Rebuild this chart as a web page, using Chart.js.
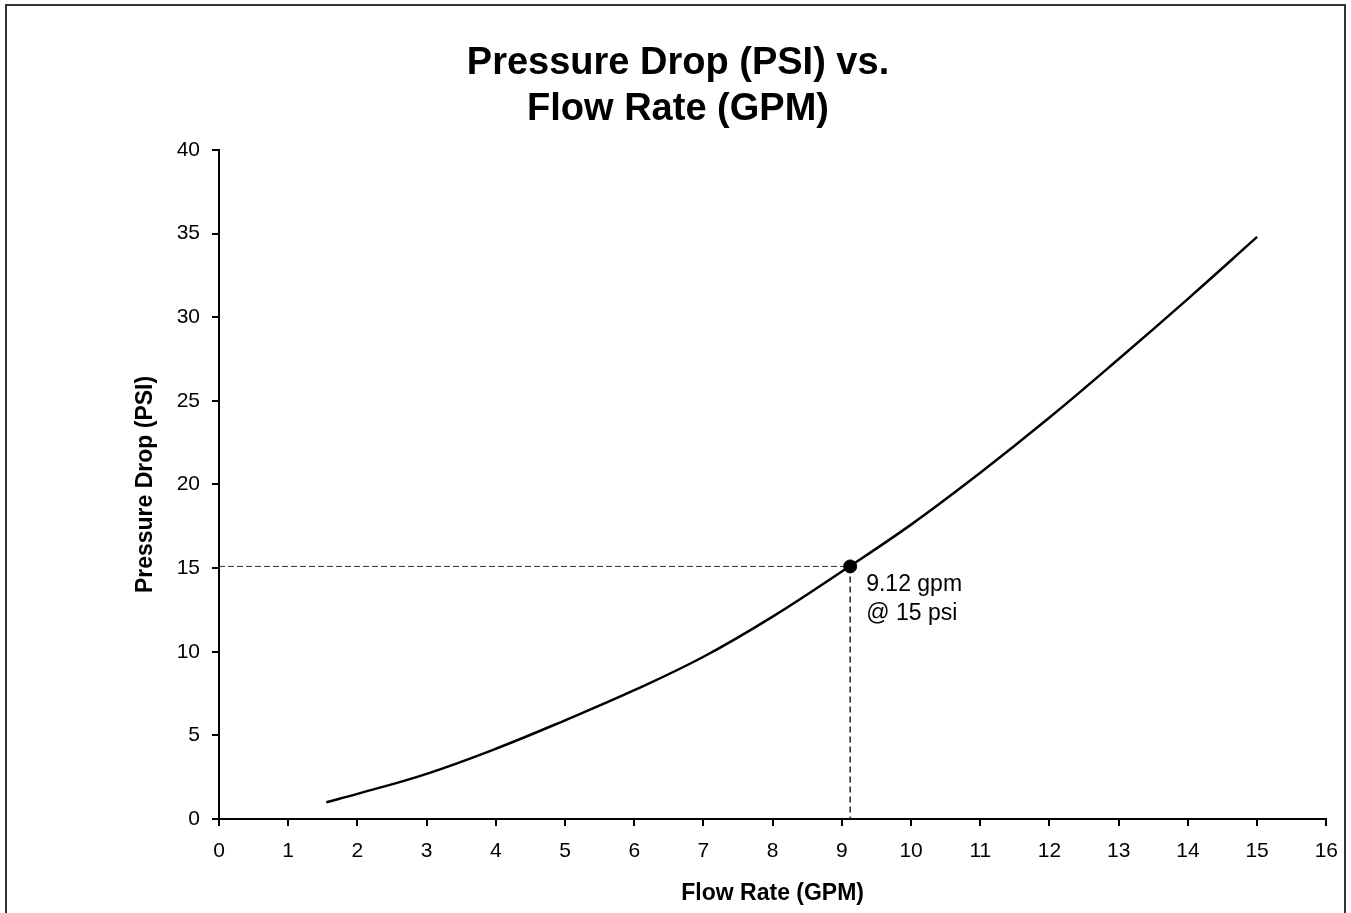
<!DOCTYPE html>
<html>
<head>
<meta charset="utf-8">
<title>Pressure Drop vs. Flow Rate</title>
<script src="https://cdn.jsdelivr.net/npm/chart.js@4.4.1/dist/chart.umd.min.js"></script>
<style>
    body { margin: 0; background: #fff; overflow: hidden; }
    #wrap { position: relative; width: 1351px; height: 913px; }
    #frame {
        position: absolute; left: 5px; top: 4px; width: 1337px; height: 1000px;
        border: 2px solid #333; pointer-events: none;
    }
</style>
</head>
<body>
<div id="wrap">
    <canvas id="pressureChart" width="1351" height="913"></canvas>
    <div id="frame"></div>
</div>
<script>
// Curve (GPM -> PSI)
const flowRate = [1.55, 2, 3, 4, 5, 6, 7, 8, 9, 10, 11, 12, 13, 14, 15];
const pressureDrop = [1.0, 1.5, 2.7, 4.2, 5.9, 7.7, 9.7, 12.1, 14.8, 17.6, 20.7, 24.0, 27.5, 31.1, 34.8];

// Operating point
const opFlow = [9.12];
const opPressure = [15.1];
const opLabel = ['9.12 gpm', '@ 15 psi'];

// Axis ranges / ticks
const xTicks = [0, 16, 1];
const yTicks = [0, 40, 5];

const chartTitle = ['Pressure Drop (PSI) vs.', 'Flow Rate (GPM)'];
const xTitle = 'Flow Rate (GPM)';
const yTitle = 'Pressure Drop (PSI)';

const FONT = "'Liberation Sans', Arial, Helvetica, sans-serif";

// Text next to the operating point
const opLabelPlugin = {
    id: 'opLabel',
    afterDatasetsDraw(chart) {
        const meta = chart.getDatasetMeta(0);
        const pt = meta.data[0];
        if (!pt) return;
        const ctx = chart.ctx;
        ctx.save();
        ctx.fillStyle = '#000';
        ctx.font = '23px ' + FONT;
        ctx.textAlign = 'left';
        ctx.textBaseline = 'middle';
        ctx.fillText(opLabel[0], pt.x + 16, pt.y + 18);
        ctx.fillText(opLabel[1], pt.x + 16, pt.y + 47);
        ctx.restore();
    }
};

const axisCommon = {
    type: 'linear',
    grid: {
        drawOnChartArea: false,
        drawTicks: true,
        tickLength: 7,
        color: '#000',
        lineWidth: 2
    },
    border: { display: true, color: '#000', width: 2 }
};

const ctx = document.getElementById('pressureChart').getContext('2d');
const pressureChart = new Chart(ctx, {
    type: 'line',
    data: {
        datasets: [
            {
                // operating point marker
                data: opFlow.map((x, i) => ({ x: x, y: opPressure[i] })),
                showLine: false,
                pointRadius: 6.5,
                pointBackgroundColor: '#000',
                pointBorderColor: '#000',
                order: 0
            },
            {
                // pressure drop curve
                data: flowRate.map((x, i) => ({ x: x, y: pressureDrop[i] })),
                borderColor: '#000',
                borderWidth: 2.5,
                pointRadius: 0,
                tension: 0.4,
                order: 1
            },
            {
                // horizontal guide
                data: [{ x: xTicks[0], y: opPressure[0] }, { x: opFlow[0], y: opPressure[0] }],
                borderColor: '#333',
                borderWidth: 1,
                borderDash: [6, 3],
                pointRadius: 0,
                order: 2
            },
            {
                // vertical guide
                data: [{ x: opFlow[0], y: opPressure[0] }, { x: opFlow[0], y: yTicks[0] }],
                borderColor: '#222',
                borderWidth: 1.5,
                borderDash: [6, 4],
                pointRadius: 0,
                order: 2
            }
        ]
    },
    options: {
        responsive: false,
        devicePixelRatio: 1,
        animation: false,
        events: [],
        layout: { padding: { left: 27, right: 22, top: 0, bottom: 0 } },
        plugins: {
            legend: { display: false },
            tooltip: { enabled: false },
            title: {
                display: true,
                text: chartTitle,
                color: '#000',
                font: { family: FONT, size: 38, weight: 'bold', lineHeight: 1.21 },
                padding: { top: 41, bottom: 17 }
            }
        },
        scales: {
            x: Object.assign({}, axisCommon, {
                min: xTicks[0],
                max: xTicks[1],
                ticks: {
                    stepSize: xTicks[2],
                    color: '#000',
                    padding: 13,
                    font: { family: FONT, size: 21 }
                },
                title: {
                    display: true,
                    text: xTitle,
                    color: '#000',
                    font: { family: FONT, size: 23, weight: 'bold' },
                    padding: { top: 0, bottom: 6 }
                },
                afterFit: function(scale) { scale.height = 94; }
            }),
            y: Object.assign({}, axisCommon, {
                min: yTicks[0],
                max: yTicks[1],
                ticks: {
                    stepSize: yTicks[2],
                    color: '#000',
                    padding: 12,
                    font: { family: FONT, size: 21 }
                },
                title: {
                    display: true,
                    text: yTitle,
                    color: '#000',
                    font: { family: FONT, size: 23, weight: 'bold' },
                    padding: { top: 105, bottom: 0 }
                },
                afterFit: function(scale) { scale.width = 192; }
            })
        }
    },
    plugins: [opLabelPlugin]
});
</script>
</body>
</html>
